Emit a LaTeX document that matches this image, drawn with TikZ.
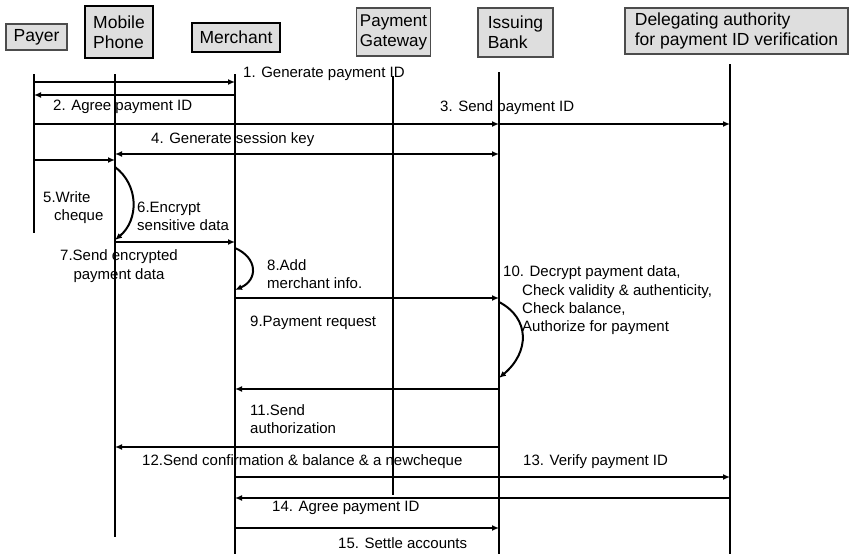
\documentclass[tikz,border=0pt]{standalone}
\usepackage{fontspec}
\setmainfont{Liberation Sans}
\usetikzlibrary{arrows.meta}
\begin{document}
\begin{tikzpicture}[x=1pt,y=-1pt,
  hdr/.style={fill=black!13, draw=black!70, line width=1.4pt, align=left, inner sep=0pt, font=\fontsize{17.5}{20}\selectfont},
  hdrb/.style={hdr, draw=black, line width=2.4pt},
  life/.style={line width=2.3pt},
  msg/.style={line width=2pt, -{Latex[length=7pt,width=6pt]}},
  dmsg/.style={line width=2pt, {Latex[length=7pt,width=6pt]}-{Latex[length=7pt,width=6pt]}},
  selfloop/.style={line width=2pt, -{Latex[length=7pt,width=6pt]}},
  lbl/.style={font=\fontsize{15}{18.3}\selectfont, inner sep=0pt, align=left, anchor=west},
]
\useasboundingbox (0,0) rectangle (850,554);

% headers
\node[hdr, minimum width=61pt, minimum height=26pt] (payer) at (36.5,37) {Payer};
\node[hdrb, minimum width=68pt, minimum height=52pt] (phone) at (119,32) {Mobile\\Phone};
\node[hdrb, minimum width=88pt, minimum height=29pt] (merchant) at (236,37.5) {Merchant};
\node[hdr, minimum width=74pt, minimum height=48pt, font=\fontsize{17}{20}\selectfont] (gateway) at (393.5,32) {Payment\\Gateway};
\node[hdr, minimum width=75pt, minimum height=49pt] (bank) at (515.5,32.5) {Issuing\\Bank};
\node[hdr, minimum width=223pt, minimum height=46pt] (deleg) at (736.5,31) {Delegating authority\\for payment ID verification};

% lifelines
\coordinate (pT) at (34,74);   \coordinate (pB) at (34,233);
\coordinate (mT) at (115,74);  \coordinate (mB) at (115,537);
\coordinate (cT) at (235,74);  \coordinate (cB) at (235,554);
\coordinate (gT) at (393,76);  \coordinate (gB) at (393,495);
\coordinate (bT) at (499,72);  \coordinate (bB) at (499,554);
\coordinate (dT) at (730,64);  \coordinate (dB) at (730,554);
\draw[life] (pT) -- (pB);
\draw[life] (mT) -- (mB);
\draw[life] (cT) -- (cB);
\draw[life] (gT) -- (gB);
\draw[life] (bT) -- (bB);
\draw[life] (dT) -- (dB);

% messages
\draw[msg] (pT |- 0,82) -- (cT |- 0,82);
\draw[msg] (cT |- 0,95) -- (pT |- 0,95);
\draw[msg] (pT |- 0,124) -- (bT |- 0,124);
\draw[msg] (bT |- 0,124) -- (dT |- 0,124);
\draw[dmsg] (mT |- 0,154) -- (bT |- 0,154);
\draw[msg] (pT |- 0,160) -- (mT |- 0,160);
\draw[selfloop] (mT |- 0,167) .. controls (139,185) and (139,220) .. (mT |- 0,240);
\draw[msg] (mT |- 0,242) -- (cT |- 0,242);
\draw[selfloop] (cT |- 0,248) .. controls (258,258) and (258,280) .. (cT |- 0,290);
\draw[msg] (cT |- 0,298) -- (bT |- 0,298);
\draw[selfloop] (bT |- 0,302) .. controls (530,318) and (530,352) .. (bT |- 0,378);
\draw[msg] (bT |- 0,389) -- (cT |- 0,389);
\draw[msg] (bT |- 0,447) -- (mT |- 0,447);
\draw[msg] (cT |- 0,477) -- (dT |- 0,477);
\draw[msg] (dT |- 0,498) -- (cT |- 0,498);
\draw[msg] (cT |- 0,528) -- (bT |- 0,528);

% labels
\node[lbl] (l1) at (243,74) {1. Generate payment ID};
\node[lbl] (l2) at (53,107) {2. Agree payment ID};
\node[lbl] (l3) at (440,108) {3. Send payment ID};
\node[lbl] (l4) at (151,140) {4. Generate session key};
\node[lbl] (l5) at (43,207.5) {5.Write\\\hspace*{11pt}cheque};
\node[lbl] (l6) at (137,216) {6.Encrypt\\sensitive data};
\node[lbl, anchor=center, align=center] (l7) at (119,266) {7.Send encrypted\\payment data};
\node[lbl] (l8) at (267,274) {8.Add\\merchant info.};
\node[lbl] (l9) at (250,323) {9.Payment request};
\node[lbl] (l10) at (503,300.5) {10. Decrypt payment data,\\\hspace*{19pt}Check validity \& authenticity,\\\hspace*{19pt}Check balance,\\\hspace*{19pt}Authorize for payment};
\node[lbl] (l11) at (250,419) {11.Send\\authorization};
\node[lbl] (l12) at (142,462) {12.Send confirmation \& balance \& a newcheque};
\node[lbl] (l13) at (523,462) {13. Verify payment ID};
\node[lbl] (l14) at (272,508) {14. Agree payment ID};
\node[lbl] (l15) at (338,543) {15. Settle accounts};
\end{tikzpicture}
\end{document}
